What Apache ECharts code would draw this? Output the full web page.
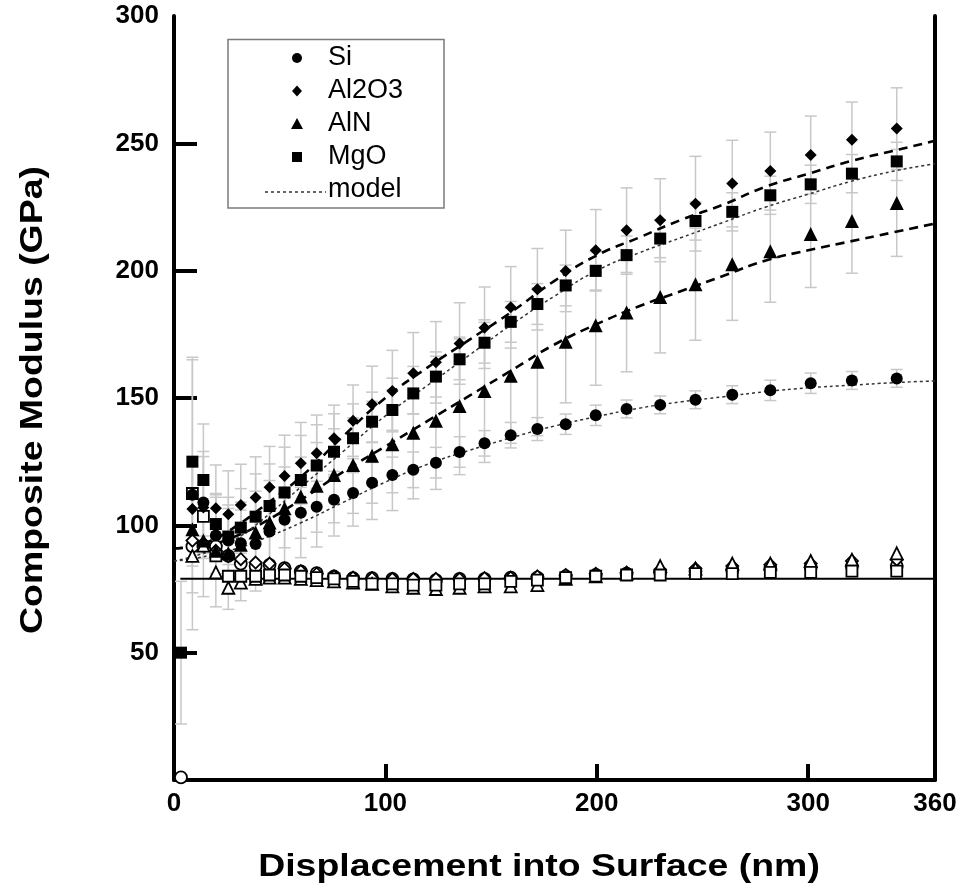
<!DOCTYPE html>
<html>
<head>
<meta charset="utf-8">
<script src="https://cdn.jsdelivr.net/npm/echarts@6/dist/echarts.min.js"></script>
<style>
html,body{margin:0;padding:0;background:#fff;}
#chart{width:962px;height:892px;}
</style>
</head>
<body>
<div id="chart"></div>
<script>
// ---- data ----
const xs = [3.3, 8.7, 13.9, 19.8, 25.7, 31.6, 38.6, 45.2, 52.3, 60.0, 67.5, 75.7, 84.7, 93.7, 103.3, 113.2, 123.9, 135.1, 146.9, 159.3, 171.9, 185.3, 199.5, 214.1, 230.0, 246.7, 264.1, 282.1, 301.2, 320.7, 341.9];

const siVals    = [null, 112, 109, 96, 94, 93, 92.7, 97.6, 102.2, 104.9, 107.3, 110, 112.7, 116.7, 119.8, 121.8, 124.6, 128.8, 132.2, 135.4, 137.8, 139.7, 143.2, 145.7, 147.3, 149.3, 151.3, 153.0, 155.8, 156.9, 157.7];
const siErr     = [null, 53, 20, 15, 14, 13, 12, 12, 11, 10, 10, 9, 8, 8, 7, 7, 6, 6, 5, 5, 4.5, 4, 4, 3.5, 3.5, 3.5, 3.5, 4, 4, 3.5, 3.5];

const al2o3Vals = [null, 106.4, 107, 106.7, 104.4, 108, 110.9, 115, 119.4, 124.4, 128.3, 134.2, 141.1, 147.5, 152.7, 159.7, 164, 171.4, 177.6, 185.6, 192.7, 199.9, 208, 215.9, 219.8, 226.3, 234.2, 239.1, 245.4, 251.4, 255.8];
const al2o3Err  = [null, 20, 20, 17, 17, 16, 16, 16, 16, 16, 15, 13, 14, 15, 16, 16, 16, 16, 16, 16, 16, 16, 16, 16.6, 16.3, 18.6, 17, 15.3, 15.3, 14.8, 16];

const alnVals   = [null, 98.5, 94, 90, 89, 92.4, 97.2, 101.1, 106.7, 111.3, 115.5, 119.8, 123.7, 127.3, 131.8, 136.4, 141.1, 146.9, 152.7, 158.7, 164.2, 172.1, 178.6, 183.6, 189.7, 194.7, 202.5, 207.6, 214.4, 219.5, 226.6];
const alnErr    = [null, 25, 22, 22, 22, 22, 23, 23, 24, 24, 24, 24, 24, 25, 26, 26, 27, 27, 28, 26.5, 29, 24, 23.6, 23.3, 22, 22, 22, 20, 21, 20.5, 21];

const mgoVals   = [50, 125, 117.8, 100.5, 95.6, 99.1, 103.4, 107.6, 112.9, 117.8, 123.5, 128.9, 134.2, 140.7, 145.3, 151.8, 158.4, 165.2, 171.7, 179.9, 186.9, 194.2, 199.9, 206.1, 212.6, 219.5, 223.1, 229.6, 233.9, 238.1, 242.9];
const mgoErr    = [28, 41, 22, 12, 11, 10, 10, 10, 10, 9, 9, 9, 8, 8, 8, 8, 8, 8, 8, 8, 8, 8, 7.5, 7.5, 7.5, 7.5, 7.5, 7.5, 7.5, 7.5, 7.5];

// open symbols
const siOpen    = [1, 91.7, 92, 91.7, 88, 85, 84, 84.5, 83.2, 81.9, 81.2, 79.9, 79.3, 79.3, 79, 78.8, 78.5, 79, 79, 79.5, 79.5, 80, 80.5, 81, 81.5, 82, 82.5, 83, 83.5, 84, 84];
const al2o3Open = [null, 94, 93, 90, 88, 86.7, 85.4, 85, 83, 82, 81, 80, 79.5, 79.3, 79, 79, 79, 79, 79.3, 79.5, 80, 80.5, 81, 81.5, 82.5, 83, 84, 84.5, 85, 86, 86.5];
const alnOpen   = [null, 88, 92, 81.5, 75.5, 77.5, 79, 79.5, 79.5, 79, 78.5, 78, 77.5, 77, 76, 75.5, 75, 75.5, 76, 76, 76.5, 79, 80, 81, 84, 83, 85, 85, 86, 86.5, 89];
const mgoOpen   = [null, 112.5, 103.5, 88, 80, 80, 80, 80.5, 80.5, 80, 79.5, 79, 78, 77, 77, 76.5, 76.5, 77, 77, 78, 78.5, 79.5, 80, 80.5, 80.5, 81, 81, 81.5, 81.5, 82, 82];

// model curves
const modelX     = [0, 10, 20, 30, 40, 60, 80, 100, 120, 140, 160, 180, 200, 220, 240, 260, 280, 300, 320, 340, 360];
const siModel    = [86, 87, 89, 91, 94, 101, 109, 117, 124, 129.5, 134.5, 139, 142.7, 146, 148.5, 150.5, 152.5, 154, 155, 156, 156.7];
const al2o3Model = [91, 92, 95, 100, 106, 119, 135, 150, 162, 173, 184, 196, 206, 213, 220, 226, 233, 238, 243, 247, 251];
const alnModel   = [91, 91.5, 93, 96, 100, 110, 121, 131, 141, 151, 161, 171, 179, 186, 192, 198, 204, 208, 211.5, 215, 218.5];
const mgoModel   = [86, 88, 91, 95, 101, 115, 129, 143, 155, 167, 179, 190, 200, 207, 213, 219, 225, 230, 235, 239, 242];

const refX = [3, 360];
const refY = [79, 79];

const xLabelValues = [0, 100, 200, 300, 360];
const xTickValues  = [100, 200, 300];
const yLabelValues = [50, 100, 150, 200, 250, 300];
const yTickValues  = [50, 100, 150, 200, 250];

const legendNames = ['Si', 'Al2O3', 'AlN', 'MgO', 'model'];
const xTitle = 'Displacement into Surface (nm)';
const yTitle = 'Composite Modulus (GPa)';

// ---- helpers ----
function pairs(xArr, yArr) {
  const out = [];
  for (let i = 0; i < xArr.length; i++) if (yArr[i] != null) out.push([xArr[i], yArr[i]]);
  return out;
}
function triples(xArr, yArr, eArr) {
  const out = [];
  for (let i = 0; i < xArr.length; i++) if (yArr[i] != null && eArr[i] != null) out.push([xArr[i], yArr[i], eArr[i]]);
  return out;
}
function errRender(params, api) {
  const x = api.value(0), y = api.value(1), e = api.value(2);
  const t = api.coord([x, y + e]), b = api.coord([x, y - e]);
  const w = 6;
  const st = { stroke: '#c8c8c8', lineWidth: 1.5 };
  return { type: 'group', children: [
    { type: 'line', shape: { x1: t[0], y1: t[1], x2: b[0], y2: b[1] }, style: st },
    { type: 'line', shape: { x1: t[0] - w, y1: t[1], x2: t[0] + w, y2: t[1] }, style: st },
    { type: 'line', shape: { x1: b[0] - w, y1: b[1], x2: b[0] + w, y2: b[1] }, style: st }
  ]};
}
function errSeries(name, vals, errs) {
  return { name: name, type: 'custom', renderItem: errRender, data: triples(xs, vals, errs), z: 1, silent: true,
    encode: { x: 0, y: [1] } };
}
function filled(name, sym, size, vals) {
  return { name: name, type: 'scatter', symbol: sym, symbolSize: size, data: pairs(xs, vals),
    itemStyle: { color: '#000', opacity: 1 }, z: 5 };
}
function hollow(name, sym, size, vals) {
  return { name: name, type: 'scatter', symbol: sym, symbolSize: size, data: pairs(xs, vals),
    itemStyle: { color: '#fff', borderColor: '#000', borderWidth: 1.8, opacity: 1 }, z: 4 };
}
function model(vals, heavy) {
  return { name: 'model', type: 'line', smooth: true, symbol: 'none', data: pairs(modelX, vals), z: 3,
    lineStyle: heavy ? { color: '#000', width: 2.6, type: [9, 6] } : { color: '#333', width: 1.5, type: [3, 3] } };
}

// legend drawn as a boxed group (markers + real text)
const LF = '27px "Liberation Sans", Arial, sans-serif';
const rows = [58, 91, 124, 157, 190];
const mx = 297, tx = 328;
const legendGraphic = {
  type: 'group', z: 100, children: [
    { type: 'rect', shape: { x: 228, y: 39.5, width: 216, height: 168.5 }, style: { fill: '#fff', stroke: '#7a7a7a', lineWidth: 1.5 } },
    { type: 'circle', shape: { cx: mx, cy: rows[0], r: 5 }, style: { fill: '#000' } },
    { type: 'polygon', shape: { points: [[mx, rows[1] - 5.5], [mx + 5, rows[1]], [mx, rows[1] + 5.5], [mx - 5, rows[1]]] }, style: { fill: '#000' } },
    { type: 'polygon', shape: { points: [[mx, rows[2] - 6], [mx + 6, rows[2] + 5], [mx - 6, rows[2] + 5]] }, style: { fill: '#000' } },
    { type: 'rect', shape: { x: mx - 5, y: rows[3] - 5, width: 10, height: 10 }, style: { fill: '#000' } },
    { type: 'line', shape: { x1: 265, y1: rows[4] + 2, x2: 326, y2: rows[4] + 2 }, style: { stroke: '#333', lineWidth: 1.5, lineDash: [3, 3] } }
  ].concat(legendNames.map((n, i) => ({
    type: 'text', x: tx, y: rows[i], style: { text: n, font: LF, fill: '#000', textVerticalAlign: 'middle' }
  })))
};

const chart = echarts.init(document.getElementById('chart'), null, { renderer: 'canvas' });
const axisFont = { fontFamily: 'Liberation Sans, Arial, sans-serif', fontWeight: 'bold', fontSize: 26, color: '#000' };

chart.setOption({
  animation: false,
  backgroundColor: '#fff',
  grid: { left: 174, right: 27, top: 16, bottom: 112, containLabel: false },
  xAxis: {
    type: 'value', min: 0, max: 360,
    axisLine: { show: true, onZero: false, lineStyle: { color: '#000', width: 4 } },
    axisTick: { show: true, inside: true, length: 16, lineStyle: { color: '#000', width: 4 }, customValues: xTickValues },
    axisLabel: Object.assign({ margin: 11, customValues: xLabelValues }, axisFont),
    splitLine: { show: false }
  },
  yAxis: [{
    type: 'value', min: 0, max: 300,
    axisLine: { show: true, onZero: false, lineStyle: { color: '#000', width: 4 } },
    axisTick: { show: true, inside: true, length: 23, lineStyle: { color: '#000', width: 4 }, customValues: yTickValues },
    axisLabel: Object.assign({ margin: 15, customValues: yLabelValues }, axisFont),
    splitLine: { show: false }
  }, {
    type: 'value', min: 0, max: 300, position: 'right',
    axisLine: { show: true, onZero: false, lineStyle: { color: '#000', width: 4 } },
    axisTick: { show: false }, axisLabel: { show: false }, splitLine: { show: false }
  }],
  graphic: [
    legendGraphic,
    { type: 'text', x: 539, y: 867, scaleX: 1.17, style: { text: xTitle, font: 'bold 32px "Liberation Sans", Arial, sans-serif', fill: '#000', textAlign: 'center', textVerticalAlign: 'middle' } },
    { type: 'text', x: 33, y: 400, rotation: Math.PI / 2, scaleX: 1.17, style: { text: yTitle, font: 'bold 32px "Liberation Sans", Arial, sans-serif', fill: '#000', textAlign: 'center', textVerticalAlign: 'middle' } }
  ],
  series: [
    model(siModel, false),
    model(al2o3Model, true),
    model(alnModel, true),
    model(mgoModel, false),
    errSeries('Si err', siVals, siErr),
    errSeries('Al2O3 err', al2o3Vals, al2o3Err),
    errSeries('AlN err', alnVals, alnErr),
    errSeries('MgO err', mgoVals, mgoErr),
    { name: 'ref', type: 'line', symbol: 'none', data: pairs(refX, refY), lineStyle: { color: '#000', width: 2 }, z: 2 },
    hollow('Si open', 'circle', 12, siOpen),
    hollow('Al2O3 open', 'diamond', 12, al2o3Open),
    hollow('AlN open', 'triangle', 12, alnOpen),
    hollow('MgO open', 'rect', 11, mgoOpen),
    filled('Si', 'circle', 12, siVals),
    filled('Al2O3', 'diamond', 12, al2o3Vals),
    filled('AlN', 'triangle', 14, alnVals),
    filled('MgO', 'rect', 12, mgoVals)
  ]
});
</script>
</body>
</html>
